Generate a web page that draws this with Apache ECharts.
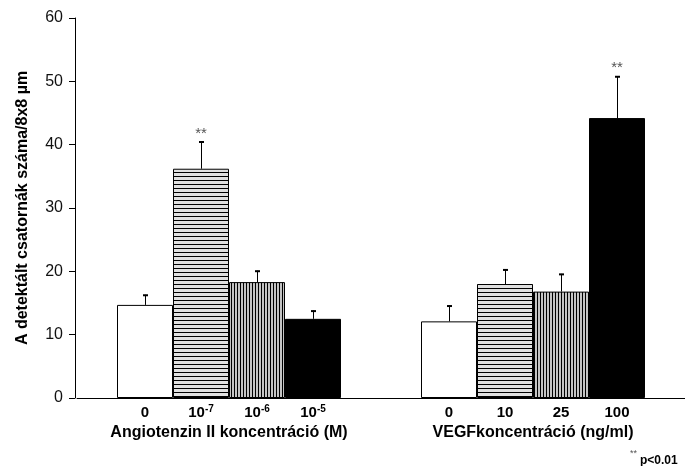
<!DOCTYPE html>
<html><head><meta charset="utf-8">
<script src="https://cdn.jsdelivr.net/npm/echarts@6/dist/echarts.min.js"></script>
<style>html,body{margin:0;padding:0;background:#fff}#c{width:685px;height:466px}</style>
</head><body><div id="c"></div>
<script>
// ---- data ----
var groupTitles = ['Angiotenzin II koncentráció (M)', 'VEGFkoncentráció (ng/ml)'];
var angiotensinLabels = ['0', '10{s|-7}', '10{s|-6}', '10{s|-5}'];
var angiotensinMean = [14.7, 36.2, 18.3, 12.5];
var angiotensinErr  = [1.6, 4.3, 1.8, 1.3];
var angiotensinSig  = [0, 1, 0, 0];
var vegfLabels = ['0', '10', '25', '100'];
var vegfMean = [12.1, 18.0, 16.8, 44.2];
var vegfErr  = [2.5, 2.3, 2.8, 6.6];
var vegfSig  = [0, 0, 0, 1];
var yTicks = [0, 10, 20, 30, 40, 50, 60];

var FONT = 'Liberation Sans, Arial, sans-serif';
var BAR_W = 56;

function stripe(horizontal) {
  var c = document.createElement('canvas');
  var n = horizontal ? 4 : 3;
  c.width = n; c.height = n;
  var g = c.getContext('2d');
  g.fillStyle = horizontal ? '#e0e0e0' : '#c4c4c4';
  g.fillRect(0, 0, n, n);
  g.fillStyle = '#000';
  if (horizontal) g.fillRect(0, 0, n, 1); else g.fillRect(0, 0, 1, n);
  return { image: c, repeat: 'repeat' };
}
var fills = ['#ffffff', stripe(true), stripe(false), '#000000'];

var barSeries = [];
for (var i = 0; i < 4; i++) {
  barSeries.push({
    type: 'bar', barWidth: BAR_W, barGap: '0%',
    data: [angiotensinMean[i], vegfMean[i]],
    itemStyle: { color: fills[i], borderColor: '#000', borderWidth: 1 },
    silent: true, z: 2
  });
}

var errData = [];
[[angiotensinMean, angiotensinErr, angiotensinSig, angiotensinLabels],
 [vegfMean, vegfErr, vegfSig, vegfLabels]].forEach(function (g, gi) {
  for (var k = 0; k < 4; k++) errData.push([gi, k, g[0][k], g[1][k], g[2][k], g[3][k]]);
});

var chart = echarts.init(document.getElementById('c'), null, { renderer: 'canvas' });
chart.setOption({
  animation: false,
  backgroundColor: '#fff',
  grid: { left: 77, top: 18, right: 0, bottom: 68 },
  xAxis: {
    type: 'category', data: groupTitles,
    axisLine: { lineStyle: { color: '#000', width: 1 } },
    axisTick: { show: false },
    axisLabel: { interval: 0, hideOverlap: false, margin: 27, color: '#000', fontFamily: FONT, fontWeight: 'bold', fontSize: 16 }
  },
  yAxis: {
    type: 'value', min: yTicks[0], max: yTicks[yTicks.length - 1], interval: 10, offset: 2,
    splitLine: { show: false },
    axisLine: { show: true, lineStyle: { color: '#000', width: 1 } },
    axisTick: { show: true, inside: false, length: 6, lineStyle: { color: '#000' } },
    axisLabel: { margin: 12, color: '#111', fontFamily: FONT, fontSize: 16 },
    name: 'A detektált csatornák száma/8x8 µm', nameLocation: 'middle', nameRotate: 90, nameGap: 44,
    nameTextStyle: { color: '#000', fontFamily: FONT, fontWeight: 'bold', fontSize: 16 }
  },
  series: barSeries.concat([{
    type: 'custom', data: errData, z: 5, silent: true, clip: false,
    encode: { x: 0, y: [2, 3] },
    renderItem: function (params, api) {
      var cat = api.value(0), k = api.value(1), m = api.value(2), e = api.value(3), sig = api.value(4);
      var lab = errData[params.dataIndex][5];
      var cx = Math.round(api.coord([cat, 0])[0] + (k - 1.5) * BAR_W);
      var y0 = api.coord([cat, 0])[1];
      var yb = api.coord([cat, m])[1];
      var yt = api.coord([cat, m + e])[1];
      var ch = [
        { type: 'line', shape: { x1: cx + 0.5, y1: yb, x2: cx + 0.5, y2: yt }, style: { stroke: '#000', lineWidth: 1 } },
        { type: 'line', shape: { x1: cx - 2, y1: yt + 0.5, x2: cx + 3, y2: yt + 0.5 }, style: { stroke: '#000', lineWidth: 2 } },
        { type: 'text', style: { text: lab, x: cx, y: y0 + 15, align: 'center', verticalAlign: 'middle',
            fontFamily: FONT, fontWeight: 'bold', fontSize: 15, fill: '#000', lineHeight: 18,
            rich: { s: { fontFamily: FONT, fontWeight: 'bold', fontSize: 10, fill: '#000', verticalAlign: 'top', lineHeight: 18, padding: [0, 0, 7, 0] } } } }
      ];
      if (sig) ch.push({ type: 'text', style: { text: '**', x: cx, y: yt - 8, align: 'center', verticalAlign: 'middle',
          fontFamily: FONT, fontSize: 15, fill: '#555' } });
      return { type: 'group', children: ch };
    }
  }]),
  graphic: [
    { type: 'text', left: 630, top: 449, style: { text: '**', fontFamily: FONT, fontSize: 9, fill: '#555' } },
    { type: 'text', left: 640, top: 455, style: { text: 'p<0.01', fontFamily: FONT, fontWeight: 'bold', fontSize: 12, fill: '#000' } }
  ]
});
</script></body></html>
